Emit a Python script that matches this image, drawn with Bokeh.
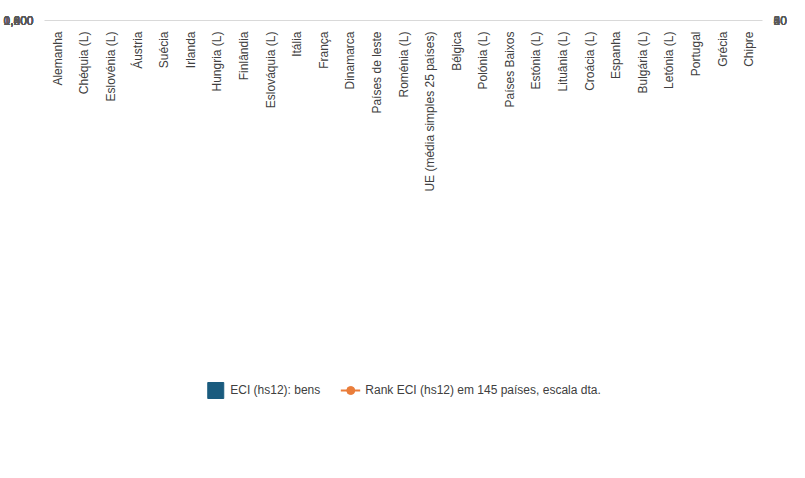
from bokeh.plotting import figure
from bokeh.models import LinearAxis, Range1d, FactorRange, Legend, LegendItem, ColumnDataSource, FixedTicker
from bokeh.embed import file_html
from bokeh.resources import INLINE

categories = ["Alemanha","Chéquia (L)","Eslovénia (L)","Áustria","Suécia","Irlanda","Hungria (L)","Finlândia","Eslováquia (L)","Itália","França","Dinamarca","Países de leste","Roménia (L)","UE (média simples 25 países)","Bélgica","Polónia (L)","Países Baixos","Estónia (L)","Lituânia (L)","Croácia (L)","Espanha","Bulgária (L)","Letónia (L)","Portugal","Grécia","Chipre"]
eci = [1.355,1.330,1.285,1.255,1.235,1.185,1.165,1.150,1.130,1.115,1.090,1.020,1.003,0.998,0.996,0.990,0.990,0.950,0.885,0.858,0.835,0.830,0.800,0.765,0.721,0.520,0.475]
rank = [6,7,9,11,13,14,15,16,17,18,21,22,23,23,24,24,25,26,28,29,30,31,33,38,40,48,51]
left_ticks = [0, 0.2, 0.4, 0.6, 0.8, 1.0, 1.2, 1.4, 1.6]
left_labels = ["0,000","0,200","0,400","0,600","0,800","1,000","1,200","1,400","1,600"]
right_ticks = [0, 10, 20, 30, 40, 50, 60]

blue = "#1a5b7e"; orange = "#ea7d3a"
src = ColumnDataSource(dict(x=categories, eci=eci, rank=rank))
p = figure(width=789, height=462, x_range=FactorRange(*categories), y_range=Range1d(0, 1.6),
           output_backend="svg", toolbar_location=None, min_border_left=10, min_border_right=10,
           min_border_top=20, outline_line_color=None)
p.extra_y_ranges = {"r": Range1d(0, 60)}
bars = p.vbar(x="x", top="eci", width=0.35, color=blue, source=src)
ln = p.line(x="x", y="rank", y_range_name="r", color=orange, line_width=2, source=src)
sc = p.scatter(x="x", y="rank", y_range_name="r", color=orange, size=6, source=src)
ax2 = LinearAxis(y_range_name="r", ticker=FixedTicker(ticks=right_ticks))
p.add_layout(ax2, "right")
p.yaxis[0].ticker = FixedTicker(ticks=left_ticks)
p.yaxis[0].major_label_overrides = {t: l for t, l in zip(left_ticks, left_labels)}
for ax in p.yaxis:
    ax.axis_line_color = None; ax.major_tick_line_color = None; ax.minor_tick_line_color = None
    ax.major_label_text_color = "#595959"; ax.major_label_text_font_size = "12px"
p.xaxis.major_label_orientation = 1.5708
p.xaxis.major_label_text_color = "#404040"; p.xaxis.major_label_text_font_size = "12px"
p.xaxis.axis_line_color = "#d9d9d9"; p.xaxis.major_tick_line_color = None
p.xgrid.grid_line_color = None; p.ygrid.grid_line_color = "#d9d9d9"
p.ygrid.ticker = FixedTicker(ticks=left_ticks)

idx = [0, 12, 14, 24]
lab = ColumnDataSource(dict(x=[categories[i] for i in idx], y=[eci[i] for i in idx],
                            t=["1,355","1,003","0,996","0,721"]))
p.text(x="x", y="y", text="t", source=lab, text_color=blue, text_font_style="bold", text_font_size="13px",
       text_align="center", text_baseline="bottom", y_offset=-10)
lab2 = ColumnDataSource(dict(x=[categories[0], categories[24]], y=[rank[0], rank[24]], t=["6","40"]))
p.text(x="x", y="y", text="t", source=lab2, y_range_name="r", text_color=orange, text_font_style="bold",
       text_font_size="13px", text_align="center", text_baseline="bottom", x_offset=0, y_offset=-14)

leg = Legend(items=[LegendItem(label="ECI (hs12): bens", renderers=[bars]),
                    LegendItem(label="Rank ECI (hs12) em 145 países, escala dta.", renderers=[ln, sc])],
             orientation="horizontal", border_line_color=None,
             label_text_font_size="12px", label_text_color="#404040", spacing=20)
p.add_layout(leg, "below")
leg.location = "center"
open("out.html", "w").write(file_html(p, INLINE))
